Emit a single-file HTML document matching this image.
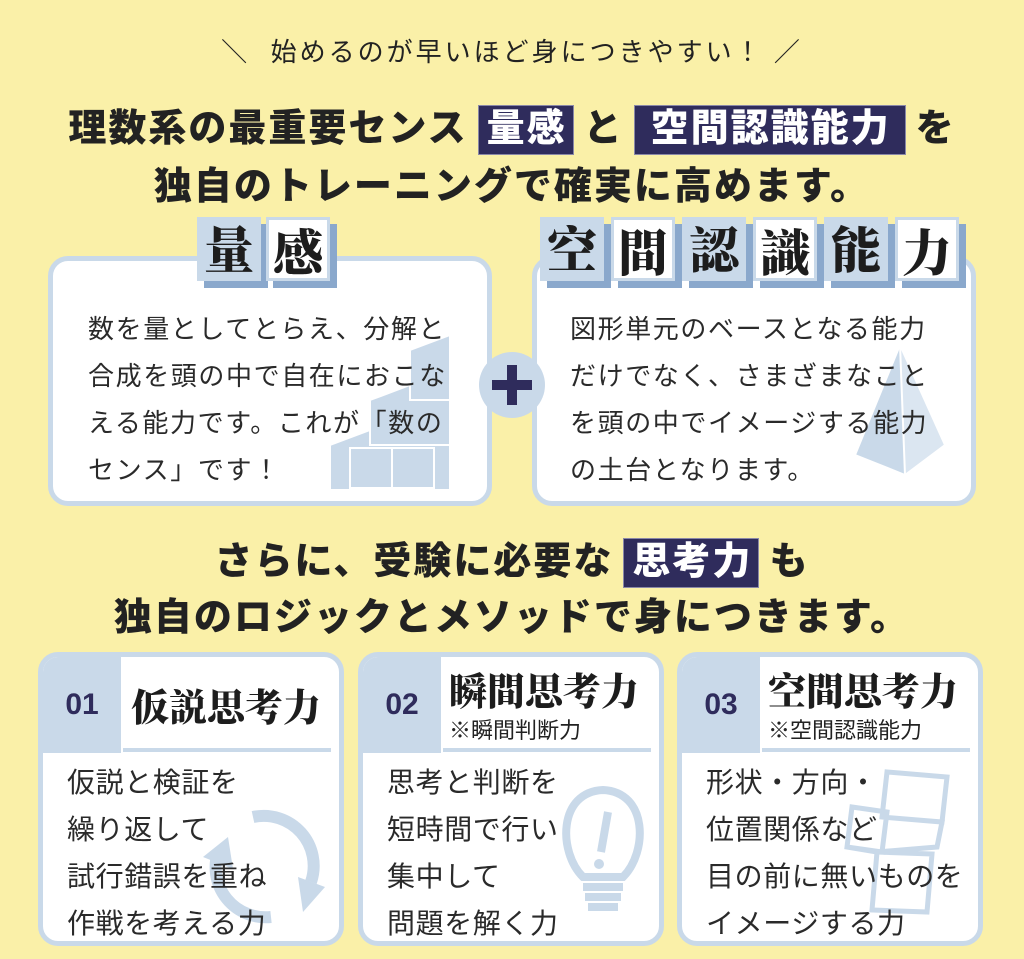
<!DOCTYPE html>
<html><head><meta charset="utf-8"><style>
*{margin:0;padding:0;box-sizing:border-box}
body{width:1024px;height:959px;background:#faf0a8;position:relative;overflow:hidden;font-family:"Liberation Sans","Noto Sans CJK JP",sans-serif;color:#222}
.a{position:absolute}
.line{position:absolute;left:0;width:1024px;text-align:center;font-weight:900;font-size:38px;letter-spacing:2px;white-space:nowrap}
.hl{background:#2f2c5c;color:#fff;padding:2px 6px 4px 8px;margin:0 10px;border:1px solid #8a88a8}
.box{position:absolute;background:#fff;border:5px solid #c9d9e9;border-radius:20px}
.tile{position:absolute;width:64px;height:64px;font-family:"Noto Serif CJK SC","Liberation Serif",serif;font-weight:900;font-size:50px;line-height:60px;text-align:center;color:#1d1d1d;box-shadow:7px 7px 0 #8aa8cc}
.t1{background:#c9d9e9}.t2{background:#fff;border:3px solid #c9d9e9}
.body{position:absolute;font-size:26px;line-height:47px;color:#2a2a2a;letter-spacing:1.6px;white-space:nowrap}
.card{position:absolute;top:652px;width:306px;height:294px;background:#fff;border:5px solid #c9d9e9;border-radius:20px;overflow:hidden}
.num{position:absolute;left:0;top:0;width:78px;height:96px;background:#c9d9e9;color:#2f2c5c;font-weight:900;font-size:30px;line-height:96px;text-align:center}
.ttl{position:absolute;font-family:"Noto Serif CJK SC",serif;font-weight:900;font-size:38px;color:#1d1d1d;white-space:nowrap}
.sub{position:absolute;font-size:22px;color:#222;white-space:nowrap}
.ul{position:absolute;top:91px;left:80px;width:208px;height:4px;background:#c9d9e9}
.cb{position:absolute;left:24px;top:102px;font-size:28px;line-height:47px;letter-spacing:0.6px;color:#2a2a2a;white-space:nowrap;z-index:2}
</style></head><body>
<div class="line" style="top:32px;font-size:26px;font-weight:400;letter-spacing:3px">＼&nbsp;&nbsp;始めるのが早いほど身につきやすい！&nbsp;／</div>
<div class="line" style="top:97px">理数系の最重要センス<span class="hl">量感</span>と<span class="hl" style="padding:2px 14px 4px 16px">空間認識能力</span>を</div>
<div class="line" style="top:155px">独自のトレーニングで確実に高めます。</div>

<div class="box" style="left:48px;top:256px;width:444px;height:250px"></div>
<div class="box" style="left:532px;top:256px;width:444px;height:250px"></div>

<svg class="a" style="left:300px;top:330px" width="160" height="160" viewBox="0 0 160 160">
<g fill="#c9d9e9" stroke="#fff" stroke-width="2">
<polygon points="30,115 70,100 150,100 150,160 30,160"/>
<polygon points="70,70 110,55 150,55 150,115 70,115"/>
<polygon points="110,20 150,5 150,70 110,70"/>
<rect x="50" y="118" width="42" height="40"/><rect x="92" y="118" width="42" height="40"/>
</g></svg>
<svg class="a" style="left:845px;top:340px" width="110" height="140" viewBox="0 0 110 140">
<g fill="#c9d9e9" stroke="#fff" stroke-width="2"><polygon points="55,5 100,105 60,135 10,115"/><polygon points="55,5 100,105 60,135" fill="#dbe6f1"/></g></svg>

<div class="tile t1" style="left:197px;top:217px">量</div>
<div class="tile t2" style="left:266px;top:217px">感</div>
<div class="tile t1" style="left:540px;top:217px">空</div>
<div class="tile t2" style="left:611px;top:217px">間</div>
<div class="tile t1" style="left:682px;top:217px">認</div>
<div class="tile t2" style="left:753px;top:217px">識</div>
<div class="tile t1" style="left:824px;top:217px">能</div>
<div class="tile t2" style="left:895px;top:217px">力</div>

<div class="body" style="left:88px;top:306px">数を量としてとらえ、分解と<br>合成を頭の中で自在におこな<br>える能力です。これが「数の<br>センス」です！</div>
<div class="body" style="left:570px;top:306px">図形単元のベースとなる能力<br>だけでなく、さまざまなこと<br>を頭の中でイメージする能力<br>の土台となります。</div>

<div class="a" style="left:479px;top:352px;width:66px;height:66px;border-radius:50%;background:#c9d9e9"></div>
<div class="a" style="left:492px;top:380px;width:40px;height:10px;background:#2f2c5c"></div>
<div class="a" style="left:507px;top:365px;width:10px;height:40px;background:#2f2c5c"></div>

<div class="line" style="top:530px">さらに、受験に必要な<span class="hl">思考力</span>も</div>
<div class="line" style="top:586px">独自のロジックとメソッドで身につきます。</div>

<div class="card" style="left:38px">
<div class="num">01</div><div class="ttl" style="left:88px;top:20px">仮説思考力</div><div class="ul"></div>
<svg class="a" style="left:150px;top:140px" width="140" height="140" viewBox="0 0 140 140"><g fill="none" stroke="#c9d9e9" stroke-width="12"><path d="M60,20 A50,50 0 0 1 118,85"/><path d="M78,120 A50,50 0 0 1 25,55"/></g><polygon points="105,80 132,90 110,115" fill="#c9d9e9"/><polygon points="10,60 35,40 40,72" fill="#c9d9e9"/></svg>
<div class="cb">仮説と検証を<br>繰り返して<br>試行錯誤を重ね<br>作戦を考える力</div></div>

<div class="card" style="left:358px">
<div class="num">02</div><div class="ttl" style="left:86px;top:4px">瞬間思考力</div><div class="sub" style="left:86px;top:56px">※瞬間判断力</div><div class="ul"></div>
<svg class="a" style="left:190px;top:125px" width="100" height="150" viewBox="0 0 100 150"><g fill="none" stroke="#c9d9e9" stroke-width="8"><path d="M30,95 C5,70 5,10 50,8 C95,10 95,70 70,95 Z"/><path d="M30,105 H70 M32,115 H68 M35,125 H65"/></g><path d="M55,30 L48,70" stroke="#c9d9e9" stroke-width="8"/><circle cx="46" cy="82" r="5" fill="#c9d9e9"/></svg>
<div class="cb">思考と判断を<br>短時間で行い<br>集中して<br>問題を解く力</div></div>

<div class="card" style="left:677px">
<div class="num">03</div><div class="ttl" style="left:86px;top:4px">空間思考力</div><div class="sub" style="left:86px;top:56px">※空間認識能力</div><div class="ul"></div>
<svg class="a" style="left:150px;top:105px" width="130" height="170" viewBox="0 0 130 170"><g fill="none" stroke="#c9d9e9" stroke-width="5"><path d="M55,10 L115,15 L110,60 L50,55 Z M20,45 L55,50 L50,90 L15,85 Z M50,55 L110,60 L105,85 L45,90 M45,90 L100,92 L95,150 L40,148 Z M15,85 L45,90"/></g></svg>
<div class="cb">形状・方向・<br>位置関係など<br>目の前に無いものを<br>イメージする力</div></div>
</body></html>
